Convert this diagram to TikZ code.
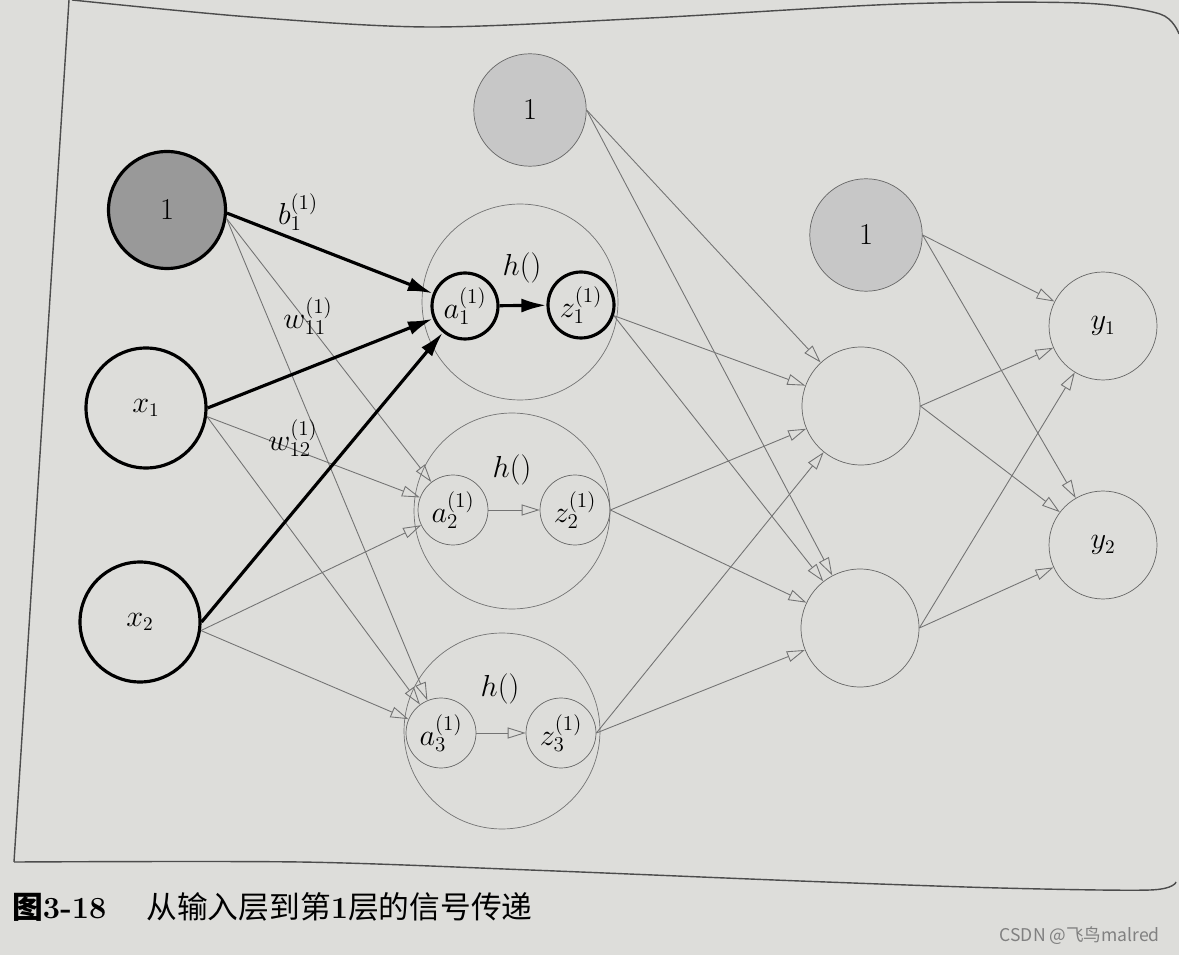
\documentclass[tikz,border=0pt]{standalone}
\usepackage{fontspec}
\newfontfamily\cjk{Noto Sans CJK SC}
\usetikzlibrary{arrows.meta}
\definecolor{paper}{RGB}{221,221,218}
\newcommand\smallm[1]{\mbox{\fontsize{11.5}{14}\selectfont$#1$}}
\begin{document}
\begin{tikzpicture}[x=0.02cm,y=-0.02cm,
        every node/.style={font=\fontsize{16}{19}\selectfont},
        inbias/.style={circle,draw,line width=1.8pt,fill=black!40,minimum size=2.34cm},
        innode/.style={circle,draw,line width=1.8pt,minimum size=2.4cm},
        hbias/.style={circle,draw=black!60,fill=black!22,minimum size=2.25cm},
        outer/.style={circle,draw=black!55,minimum size=3.92cm},
        small/.style={circle,draw=black!60,minimum size=1.4cm,inner sep=0pt},
        hot/.style={draw=black,line width=1.8pt,minimum size=1.32cm},
        plain/.style={circle,draw=black!60,minimum size=2.36cm},
        outn/.style={circle,draw=black!60,minimum size=2.16cm},
        bold/.style={line width=1.8pt,-{Latex[length=5mm,width=2.8mm]}},
        weak/.style={draw=black!55,line width=0.5pt,-{Triangle[open,length=3.6mm,width=2.2mm]}}]
    \useasboundingbox[fill=paper] (0,0) rectangle (1179,955);
    % frame of the figure
    \draw[black!70,line width=0.8pt] plot[smooth] coordinates {(72,0) (250,17) (430,27) (650,18) (900,4) (1080,3) (1160,14) (1179,34)};
    \draw[black!70,line width=0.8pt] (69,0) -- (14,862);
    \draw[black!70,line width=0.8pt] plot[smooth] coordinates {(14,862) (300,862) (530,870) (800,881) (1000,888) (1150,890) (1176,882)};
    % input layer
    \node[inbias] (b0) at (167,210) {$1$};
    \node[innode] (x1) at (146,408) {$x_1$};
    \node[innode] (x2) at (140,622) {$x_2$};
    % layer 1
    \node[hbias] (b1) at (530,110) {$1$};
    \node[outer] (c1) at (520,302) {};
    \node[outer] (c2) at (512,511) {};
    \node[outer] (c3) at (502,731) {};
    \node[small,hot] (a1) at (465,306) {$a_{\smallm{1}}^{\smallm{(1)}}$};
    \node[small,hot] (z1) at (581,305) {$z_{\smallm{1}}^{\smallm{(1)}}$};
    \node[small] (a2) at (453,510) {$a_{\smallm{2}}^{\smallm{(1)}}$};
    \node[small] (z2) at (575,510) {$z_{\smallm{2}}^{\smallm{(1)}}$};
    \node[small] (a3) at (441,733) {$a_{\smallm{3}}^{\smallm{(1)}}$};
    \node[small] (z3) at (561,733) {$z_{\smallm{3}}^{\smallm{(1)}}$};
    % layer 2 and output
    \node[hbias] (b2) at (866,235) {$1$};
    \node[plain] (h1) at (861,406) {};
    \node[plain] (h2) at (860,628) {};
    \node[outn] (y1) at (1103,326) {$y_1$};
    \node[outn] (y2) at (1103,545) {$y_2$};
    % connections
    \foreach \s in {b0,x1,x2}
        \foreach \t in {a2,a3}
            \draw[weak] (\s.-8) -- (\t);
    \draw[weak] (a2) -- (z2);
    \draw[weak] (a3) -- (z3);
    \foreach \s in {b1,z2,z3}
        \foreach \t in {h1,h2}
            \draw[weak] (\s.east) -- (\t);
    \foreach \t in {h1,h2}
        \draw[weak] (z1.-18) -- (\t);
    \foreach \s in {b2,h1,h2}
        \foreach \t in {y1,y2}
            \draw[weak] (\s.east) -- (\t);
    \draw[bold] (b0.-3) -- (a1);
    \draw[bold] (x1.east) -- (a1);
    \draw[bold] (x2.east) -- (a1);
    \draw[bold] (a1) -- (z1);
    % labels
    \node (lb) at (298,212) {$b_{\smallm{1}}^{\smallm{(1)}}$};
    \node (lw11) at (308,316) {$w_{\smallm{11}}^{\smallm{(1)}}$};
    \node (lw12) at (293,438) {$w_{\smallm{12}}^{\smallm{(1)}}$};
    \node (fa) at (522,268) {$h()$};
    \node (fb) at (512,470) {$h()$};
    \node (fc) at (500,689) {$h()$};
    % caption and mark
    \node[anchor=west,font=\cjk\fontsize{17.5}{20}\selectfont] (cap) at (6,907)
        {{\bfseries 图}{\rmfamily\bfseries 3-18}\hspace{1.3em}从输入层到第{\rmfamily\bfseries 1}层的信号传递};
    \node[anchor=east,font=\cjk\fontsize{10}{12}\selectfont,text=black!50] (mark) at (1166,936) {CSDN @飞鸟malred};
\end{tikzpicture}
\end{document}
